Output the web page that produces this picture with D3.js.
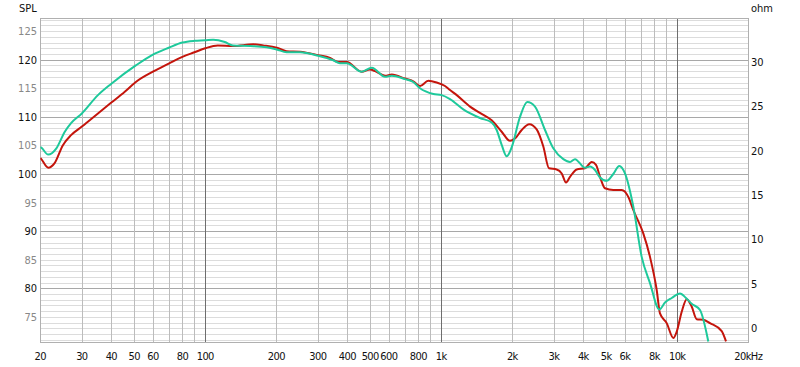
<!DOCTYPE html>
<html>
<head>
<meta charset="utf-8">
<script src="https://cdn.jsdelivr.net/npm/d3@7"></script>
<style>
  body { margin: 0; background: #fff; }
  svg text { font-family: "DejaVu Sans Condensed", "DejaVu Sans", sans-serif; font-size: 11px; }
</style>
</head>
<body>
<div id="chart"></div>
<script>
// red curve (Hz, dB)
var redFreq = [20, 20.2, 21.6, 23.0, 24.9, 27.0, 30, 35.1, 40, 45.6, 50.8, 60, 70, 80, 90, 100, 113,
  131, 160, 176, 201, 221, 252, 301, 338, 366, 398, 460, 499, 524, 578, 617, 702, 761, 813, 881, 956, 1037, 1089,
  1163, 1324, 1459, 1635, 1803, 1956, 2053, 2192, 2361, 2537, 2707, 2861, 3084, 3239, 3378, 3512, 3749, 4065,
  4340, 4526, 4706, 4941, 5357, 5816, 6203, 6512, 7178, 7664, 8183, 8450, 9021, 9623, 9947, 10444, 10966,
  11512, 12087, 12894, 13764, 15429, 16090];
var redDb = [102.8, 102.6, 101.1, 101.9, 105.0, 106.8, 108.3, 110.6, 112.5, 114.4, 116.1, 117.9, 119.3, 120.5, 121.3, 122.0, 122.5,
  122.4, 122.7, 122.5, 122.1, 121.5, 121.4, 120.8, 120.3, 119.6, 119.6, 117.9, 118.3, 118.0, 117.2, 117.4, 116.7, 116.2, 115.4, 116.3, 116.0, 115.4, 114.7,
  113.8, 111.8, 110.7, 109.4, 107.4, 105.8, 106.2, 107.7, 108.7, 107.8, 104.8, 101.0, 100.8, 100.1, 98.5, 99.5, 100.8, 101.0,
  102.1, 101.6, 99.5, 97.5, 97.2, 97.2, 96.0, 93.7, 89.6, 85.5, 79.7, 75.6, 73.9, 71.3, 72.4, 75.9, 78.1,
  76.8, 74.6, 74.5, 73.9, 72.5, 70.7];

// green curve (Hz, dB)
var greenFreq = [20, 20.2, 21.6, 23.4, 25.4, 27.0, 30, 35.1, 40, 50.8, 60, 70, 80, 90, 100, 108, 121, 131,
  155, 182, 201, 221, 252, 301, 349, 372, 398, 460, 508, 578, 617, 702, 761, 813, 926, 1004, 1089,
  1240, 1459, 1635, 1717, 1803, 1894, 1989, 2156, 2315, 2496, 2752, 2984, 3290, 3512, 3687, 4065, 4268,
  4482, 4706, 5024, 5357, 5680, 6005, 6512, 7068, 7664, 8394, 8874, 9474, 10272, 10890, 11512, 12484, 13537];
var greenDb = [104.7, 104.6, 103.4, 104.5, 107.4, 108.9, 110.6, 113.8, 115.8, 119.0, 120.9, 122.1, 123.0, 123.3, 123.4, 123.5, 123.1, 122.5,
  122.4, 122.2, 121.8, 121.3, 121.3, 120.7, 119.9, 119.4, 119.4, 117.9, 118.6, 117.0, 117.2, 116.6, 116.1, 115.0, 114.0, 113.8, 113.1,
  111.3, 109.8, 109.0, 107.7, 105.1, 103.1, 104.7, 110.0, 112.6, 111.8, 107.7, 104.5, 102.6, 102.1, 102.6, 101.1, 101.3,
  100.7, 99.4, 98.8, 100.0, 101.4, 100.1, 94.3, 85.5, 80.9, 76.3, 77.5, 78.3, 79.1, 78.3, 77.3, 76.2, 70.7];

// axis ticks
var splTicks = [75, 80, 85, 90, 95, 100, 105, 110, 115, 120, 125];
var ohmTicks = [0, 5, 10, 15, 20, 25, 30];
var freqGrid = [20, 30, 40, 50, 60, 70, 80, 90, 100, 200, 300, 400, 500, 600, 700, 800, 900,
  1000, 2000, 3000, 4000, 5000, 6000, 7000, 8000, 9000, 10000, 20000];
var freqLabels = [[20, "20"], [30, "30"], [40, "40"], [50, "50"], [60, "60"], [80, "80"], [100, "100"],
  [200, "200"], [300, "300"], [400, "400"], [500, "500"], [600, "600"], [800, "800"], [1000, "1k"],
  [2000, "2k"], [3000, "3k"], [4000, "4k"], [5000, "5k"], [6000, "6k"], [8000, "8k"], [10000, "10k"], [20000, "20kHz"]];

var w = 800, h = 367;
var padLeft = 40.3, padRight = 748.3, padTop = 18, padBottom = 342;

var svg = d3.select("#chart").append("svg")
  .attr("width", w)
  .attr("height", h);

var x = d3.scaleLog().domain([20, 20000]).range([padLeft, padRight]);
var y = d3.scaleLinear().domain([70.6, 127.3]).range([padBottom, padTop]);
var yOhm = d3.scaleLinear().domain([-1.58, 34.96]).range([padBottom, padTop]);

// horizontal grid, 1 dB steps
var minorDb = d3.range(71, 128);
svg.append("g").selectAll("line")
  .data(minorDb)
  .enter().append("line")
  .attr("x1", padLeft).attr("x2", padRight)
  .attr("y1", function(d) { return Math.round(y(d)) + 0.5; })
  .attr("y2", function(d) { return Math.round(y(d)) + 0.5; })
  .attr("stroke", function(d) { return d % 10 === 0 ? "#a8a8a8" : "#dcdcdc"; })
  .attr("stroke-width", 1);

// vertical grid
svg.append("g").selectAll("line")
  .data(freqGrid)
  .enter().append("line")
  .attr("x1", function(d) { return Math.round(x(d)) + 0.5; })
  .attr("x2", function(d) { return Math.round(x(d)) + 0.5; })
  .attr("y1", padTop).attr("y2", padBottom)
  .attr("stroke", function(d) { return (d === 100 || d === 1000 || d === 10000) ? "#6e6e6e" : "#bcbcbc"; })
  .attr("stroke-width", 1);

// plot border
svg.append("rect")
  .attr("x", Math.round(padLeft) + 0.5).attr("y", padTop + 0.5)
  .attr("width", Math.round(padRight) - Math.round(padLeft))
  .attr("height", padBottom - padTop)
  .attr("fill", "none")
  .attr("stroke", "#b0b0b0");

svg.append("clipPath").attr("id", "clip")
  .append("rect")
  .attr("x", padLeft).attr("y", padTop)
  .attr("width", padRight - padLeft).attr("height", padBottom - padTop);

var line = d3.line()
  .x(function(d) { return x(d[0]); })
  .y(function(d) { return y(d[1]); })
  .curve(d3.curveMonotoneX);

var plot = svg.append("g").attr("clip-path", "url(#clip)");

plot.append("path")
  .datum(d3.zip(redFreq, redDb))
  .attr("d", line)
  .attr("fill", "none")
  .attr("stroke", "#c4150c")
  .attr("stroke-width", 2);

plot.append("path")
  .datum(d3.zip(greenFreq, greenDb))
  .attr("d", line)
  .attr("fill", "none")
  .attr("stroke", "#1ec99b")
  .attr("stroke-width", 2);

// left axis labels
svg.append("g").selectAll("text")
  .data(splTicks)
  .enter().append("text")
  .attr("x", 37)
  .attr("y", function(d) { return y(d) + 4; })
  .attr("text-anchor", "end")
  .attr("fill", function(d) { return d % 10 === 0 ? "#111" : "#888"; })
  .text(function(d) { return d; });

svg.append("text")
  .attr("x", 19).attr("y", 12)
  .attr("fill", "#111")
  .text("SPL");

// right axis labels
svg.append("g").selectAll("text")
  .data(ohmTicks)
  .enter().append("text")
  .attr("x", 751)
  .attr("y", function(d) { return yOhm(d) + 4; })
  .attr("fill", "#111")
  .text(function(d) { return d; });

svg.append("text")
  .attr("x", 751).attr("y", 12)
  .attr("fill", "#111")
  .text("ohm");

// bottom labels
svg.append("g").selectAll("text")
  .data(freqLabels)
  .enter().append("text")
  .attr("x", function(d) { return x(d[0]); })
  .attr("y", 360)
  .attr("text-anchor", "middle")
  .attr("letter-spacing", "-0.6px")
  .attr("fill", "#111")
  .text(function(d) { return d[1]; });
</script>
</body>
</html>
